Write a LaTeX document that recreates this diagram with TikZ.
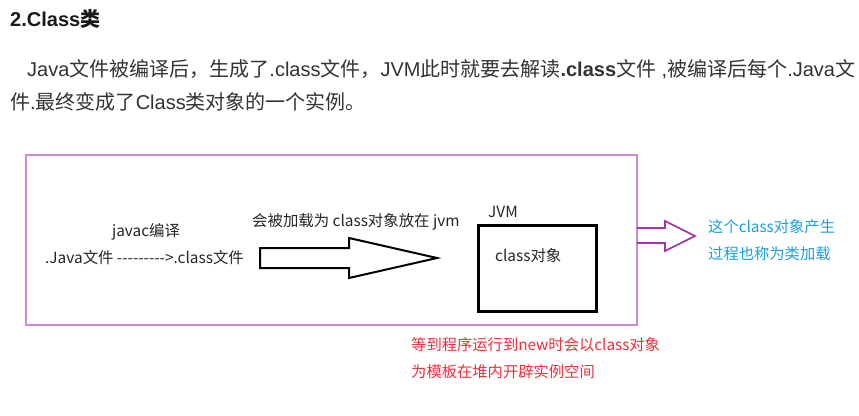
\documentclass[tikz,border=0pt]{standalone}
\usepackage{fontspec}
\setmainfont{Liberation Sans}
\newfontfamily\cjk{Noto Sans CJK SC}
\newcommand{\zh}[1]{{\cjk #1}}
\definecolor{bodytxt}{HTML}{333333}
\definecolor{frameP}{HTML}{CC88D4}
\definecolor{arrowP}{HTML}{A535A8}
\definecolor{noteB}{HTML}{1AA0E8}
\definecolor{noteR}{HTML}{F0303C}
\tikzset{
  para/.style={anchor=west, inner sep=0pt, text=bodytxt, font=\fontsize{20}{22}\selectfont},
  dtxt/.style={inner sep=0pt, text=black!85, font=\cjk\fontsize{15.4}{17}\selectfont},
  note/.style={anchor=west, inner sep=0pt, font=\cjk\fontsize{15.3}{17}\selectfont},
}
\begin{document}
\begin{tikzpicture}[x=1pt,y=-1pt]
\useasboundingbox (0,0) rectangle (859,415);
\fill[white] (0,0) rectangle (859,415);
% title and paragraph
\node[para, font=\bfseries\fontsize{20}{22}\selectfont, text=black!90] (title) at (10,19) {2.Class{\cjk\bfseries 类}};
\node[para] (p1) at (27,69) {Java\zh{文件被编译后，生成了}.class\zh{文件，}JVM\zh{此时就要去解读}\textbf{.class}\zh{文件} ,\zh{被编译后每个}.Java\zh{文}};
\node[para] (p2) at (10,102) {\zh{件}.\zh{最终变成了}Class\zh{类对象的一个实例。}};
% frame
\draw[frameP, line width=1.2pt] (26,155) rectangle (637,325);
\node[dtxt] (javac) at (146,232) {javac编译};
\node[dtxt, anchor=west] (files) at (45,258) {.Java文件 ---------{>}.class文件};
\node[dtxt, anchor=west] (load) at (252,222) {会被加载为 class对象放在 jvm};
% big arrow
\draw[black, line width=2pt, line join=miter]
  (260,248) -- (349,248) -- (349,238) -- (437,258) -- (349,278) -- (349,268) -- (260,268) -- cycle;
% JVM box
\node[dtxt, anchor=west] (jvm) at (488,212) {JVM};
\draw[black, line width=3pt] (478,225) rectangle (596,311);
\node[dtxt, anchor=west] (cobj) at (495,256) {class对象};
% purple arrow
\draw[arrowP, line width=1.6pt, line join=miter]
  (637,228) -- (665,228) -- (665,221) -- (695,236) -- (665,251) -- (665,243) -- (637,243);
\node[note, text=noteB] (b1) at (708,227) {这个class对象产生};
\node[note, text=noteB] (b2) at (708,254) {过程也称为类加载};
\node[note, text=noteR] (r1) at (411,345) {等到程序运行到new时会以class对象};
\node[note, text=noteR] (r2) at (411,372) {为模板在堆内开辟实例空间};
\end{tikzpicture}
\end{document}
